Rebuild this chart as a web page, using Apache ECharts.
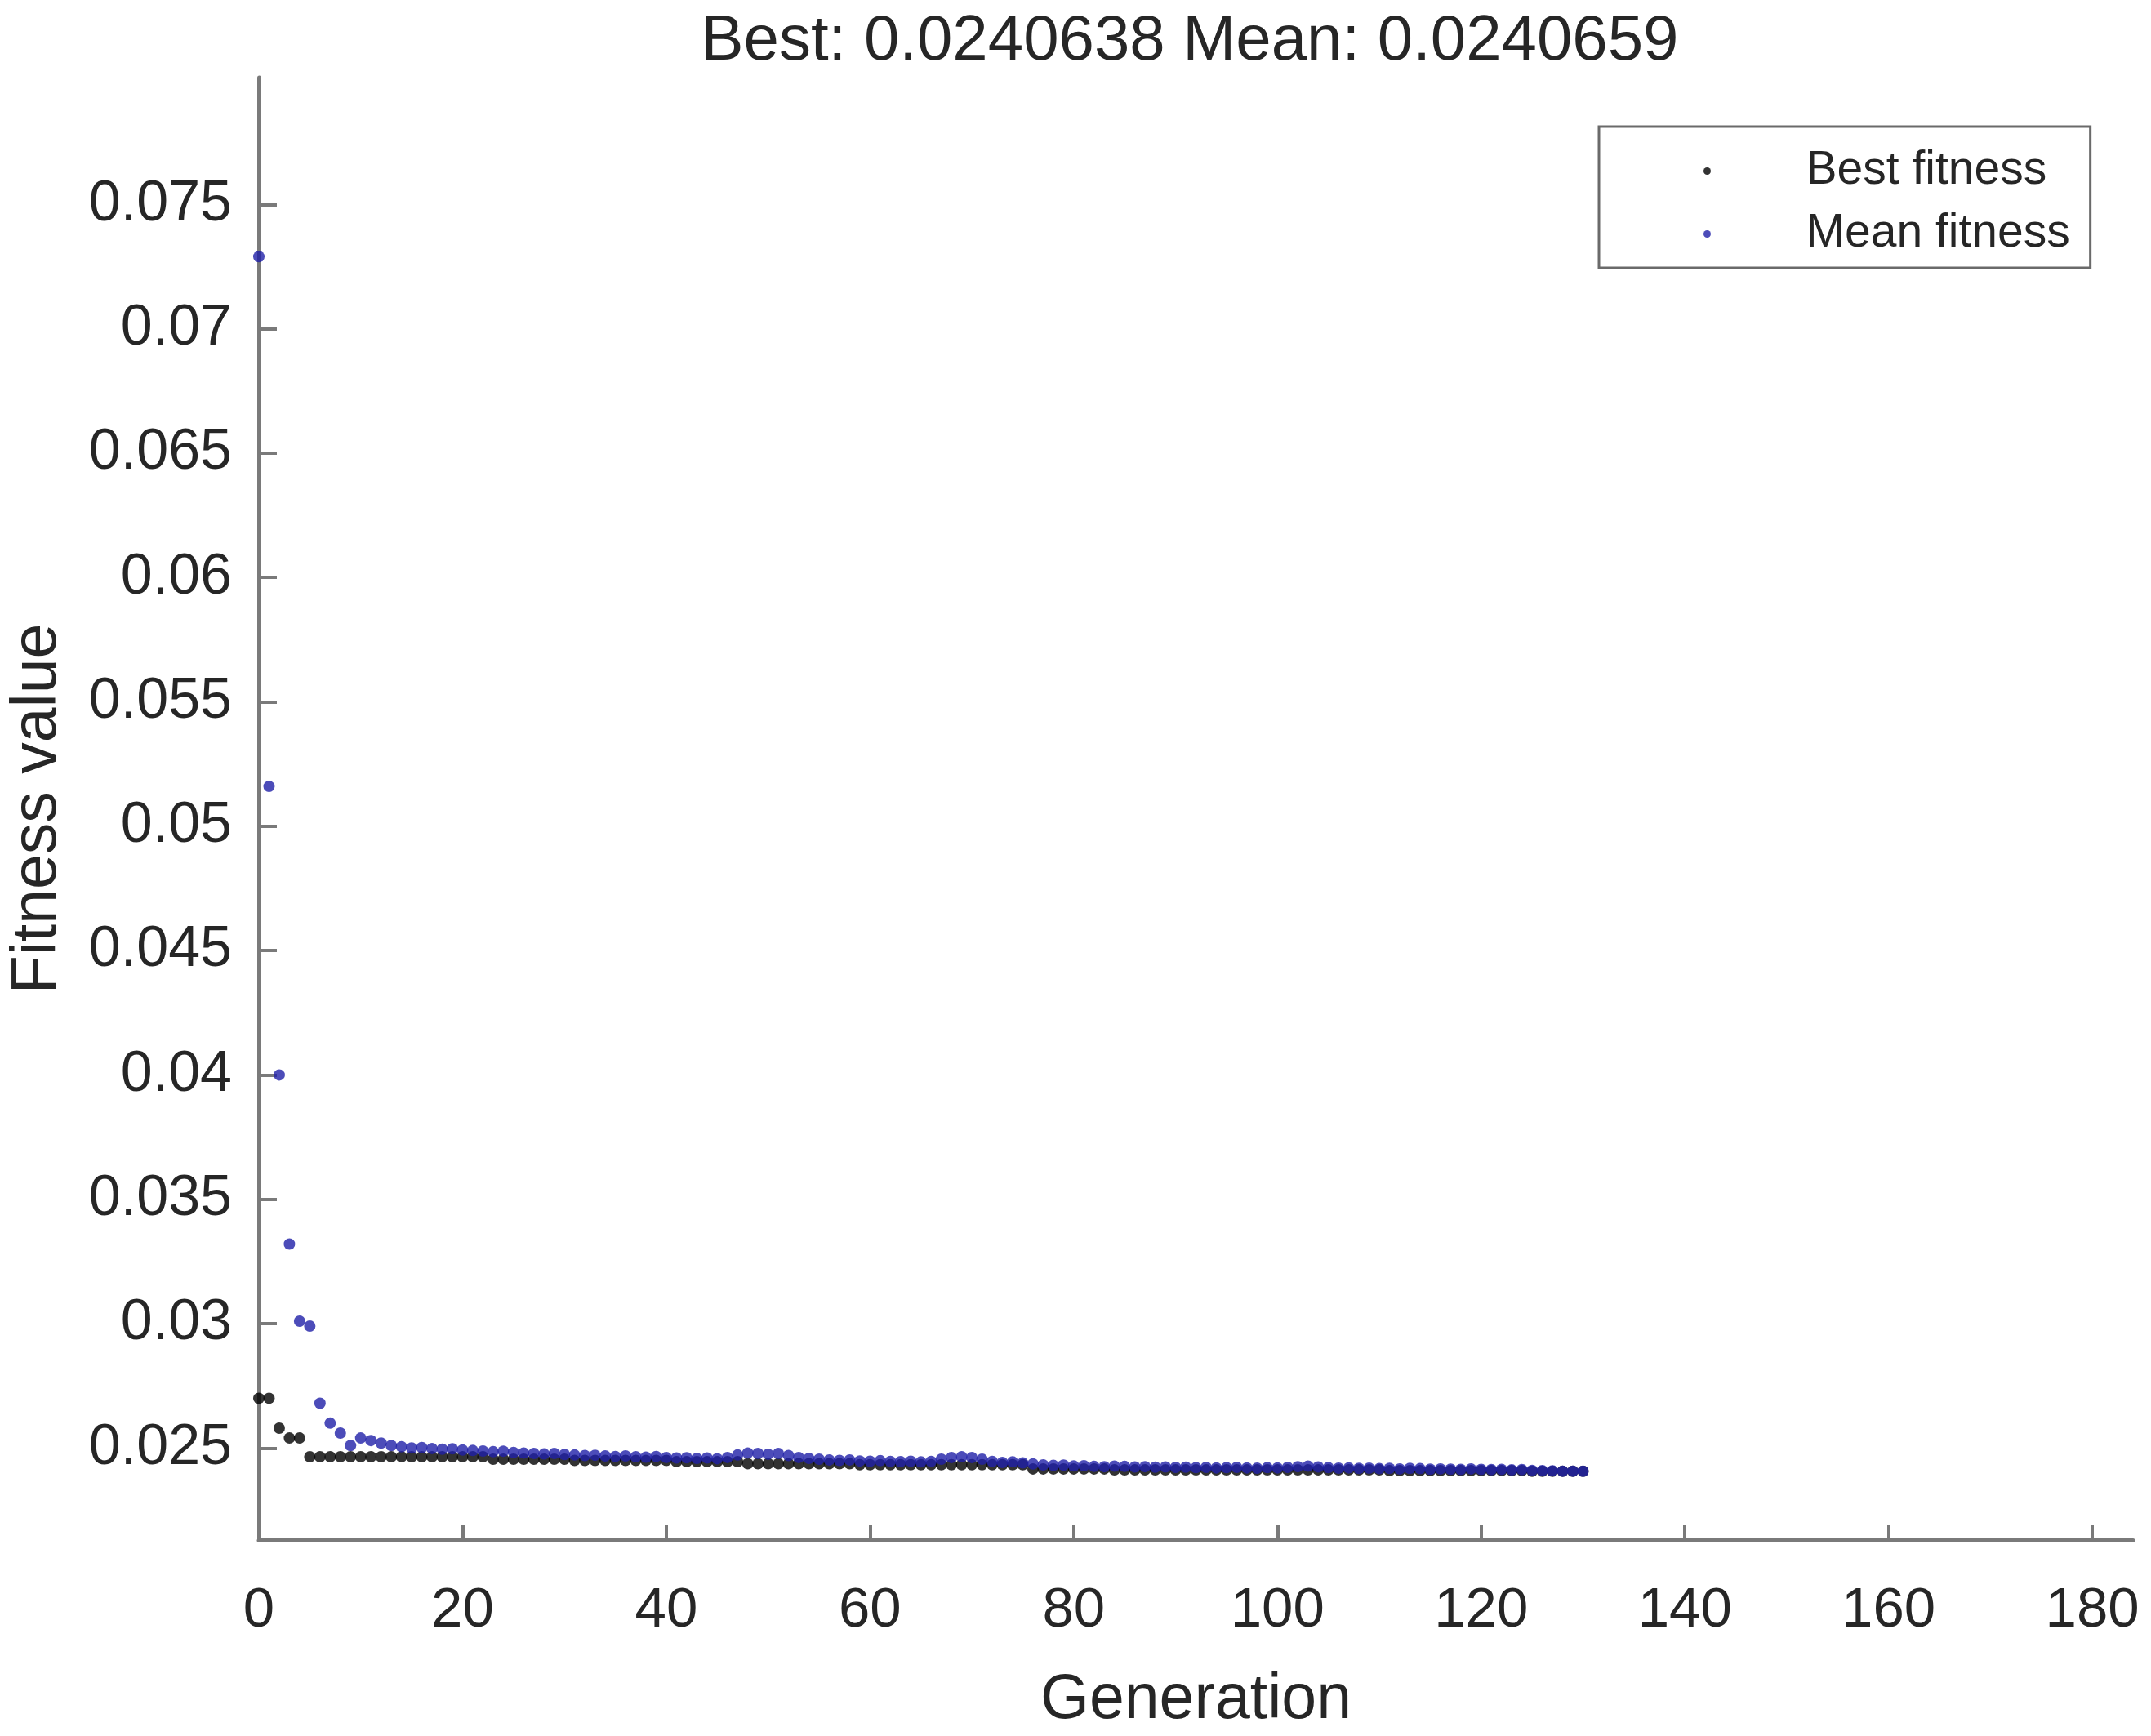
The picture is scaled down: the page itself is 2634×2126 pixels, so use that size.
<!DOCTYPE html>
<html>
<head>
<meta charset="utf-8">
<script src="https://cdn.jsdelivr.net/npm/echarts@6/dist/echarts.min.js"></script>
<style>
html,body{margin:0;padding:0;background:#fff;}
#chart{width:2634px;height:2126px;}
</style>
</head>
<body>
<div id="chart"></div>
<script>
// Generation-indexed values (generation = array index, 0..130)
var bestFitness = [
  0.0270, 0.0270, 0.0258, 0.0254, 0.0254,
  0.02465, 0.02465, 0.02465, 0.02465, 0.02465, 0.02465, 0.02465, 0.02465, 0.02465,
  0.02465, 0.02465, 0.02465, 0.02465, 0.02465, 0.02465, 0.02465, 0.02465, 0.02465,
  0.02455, 0.02455, 0.02455, 0.02455, 0.02455, 0.02455, 0.02455, 0.02455,
  0.0245, 0.0245, 0.0245, 0.0245, 0.0245, 0.0245, 0.0245, 0.0245, 0.0245, 0.0245,
  0.02445, 0.02445, 0.02445, 0.02445, 0.02445, 0.02445, 0.02445,
  0.02437, 0.02437, 0.02437, 0.02437, 0.02437, 0.02437, 0.02437, 0.02437, 0.02437, 0.02437, 0.02437,
  0.02433, 0.02433, 0.02433, 0.02433, 0.02433, 0.02433, 0.02433, 0.02433, 0.02433,
  0.02433, 0.02433, 0.02433, 0.02433, 0.02433, 0.02433, 0.02433, 0.02433,
  0.02416, 0.02416, 0.02416, 0.02416, 0.02416, 0.02416, 0.02416, 0.02416,
  0.02412, 0.02412, 0.02412, 0.02412, 0.02412, 0.02412, 0.02412, 0.02412, 0.02412,
  0.02412, 0.02412, 0.02412, 0.02412, 0.02412, 0.02412, 0.02412, 0.02412, 0.02412,
  0.02412, 0.02412, 0.02412, 0.02412, 0.02412, 0.02412, 0.02412, 0.02412, 0.02412,
  0.02409, 0.02409, 0.02409, 0.02409, 0.02409, 0.02409, 0.02409,
  0.02409, 0.02409, 0.02409, 0.02409, 0.02409, 0.02409, 0.02409,
  0.0240638, 0.0240638, 0.0240638, 0.0240638, 0.0240638, 0.0240638
];

var meanFitness = [
  0.0729, 0.0516, 0.0400, 0.0332, 0.0301, 0.0299, 0.0268, 0.0260, 0.0256, 0.0251,
  0.0254, 0.0253, 0.0252, 0.0251, 0.02505, 0.0250, 0.02502, 0.02498, 0.02495, 0.02497, 0.02492,
  0.0249, 0.02488, 0.02485, 0.02487, 0.02482, 0.0248, 0.02478, 0.02476, 0.02478, 0.02474,
  0.02472, 0.0247, 0.02471, 0.02468, 0.02466, 0.02468, 0.02465, 0.02463, 0.02466, 0.02462,
  0.0246, 0.02461, 0.02458, 0.0246, 0.02457,
  0.02462, 0.02472, 0.0248, 0.02478, 0.02475, 0.02478, 0.0247, 0.02462,
  0.02458, 0.02455, 0.02452, 0.0245, 0.02452, 0.02448, 0.02447, 0.02449, 0.02446, 0.02445,
  0.02447, 0.02444, 0.02446,
  0.02455, 0.02462, 0.02465, 0.02462, 0.02455,
  0.02446, 0.02442, 0.02444, 0.0244, 0.02436,
  0.02432, 0.0243, 0.02431, 0.02428, 0.02429, 0.02426, 0.02425, 0.02427,
  0.02426, 0.02424, 0.02425, 0.02423, 0.02424, 0.02422, 0.02423, 0.02421, 0.02422, 0.0242,
  0.02421, 0.02422, 0.0242, 0.02419, 0.02421, 0.0242,
  0.02422, 0.02425, 0.02427, 0.02424, 0.02421, 0.02419, 0.0242, 0.02418, 0.02419, 0.02417,
  0.02418, 0.02416, 0.02418, 0.02417, 0.02415, 0.02416, 0.02415, 0.02414, 0.02416, 0.02414,
  0.02413, 0.02414, 0.02412, 0.02413,
  0.0241, 0.02409, 0.02408, 0.02407, 0.02407, 0.0240659
];

var xTicks = [0, 20, 40, 60, 80, 100, 120, 140, 160, 180];
var yTicks = [0.025, 0.03, 0.035, 0.04, 0.045, 0.05, 0.055, 0.06, 0.065, 0.07, 0.075];
var titleText = 'Best: 0.0240638 Mean: 0.0240659';

var FONT = '"Liberation Sans", Arial, Helvetica, sans-serif';
var TXT = '#262626';
var AXC = '#7a7a7a';

function toPairs(arr) { return arr.map(function (v, i) { return [i, v]; }); }

var chart = echarts.init(document.getElementById('chart'), null, { renderer: 'canvas' });
chart.setOption({
  backgroundColor: '#ffffff',
  animation: false,
  title: {
    text: titleText,
    left: 1452,
    textAlign: 'center',
    top: 7,
    textStyle: { fontFamily: FONT, fontSize: 78, fontWeight: 'normal', color: TXT }
  },
  legend: {
    orient: 'vertical',
    left: 1958,
    top: 155,
    padding: [26, 25, 13, 128],
    itemGap: 20,
    itemWidth: 12,
    itemHeight: 9,
    icon: 'circle',
    borderColor: '#6a6a6a',
    borderWidth: 3,
    backgroundColor: '#ffffff',
    textStyle: { fontFamily: FONT, fontSize: 57, color: TXT, padding: [0, 0, 0, 110] },
    data: ['Best fitness', 'Mean fitness']
  },
  grid: { left: 308, right: 22, top: 95, bottom: 221, containLabel: false },
  xAxis: {
    type: 'value',
    min: 0,
    max: 184,
    name: 'Generation',
    nameLocation: 'middle',
    nameGap: 158,
    nameTextStyle: { fontFamily: FONT, fontSize: 77, color: TXT },
    axisLine: { show: true, lineStyle: { color: AXC, width: 5 } },
    axisTick: { show: true, inside: true, length: 18, customValues: xTicks, lineStyle: { color: AXC, width: 4 } },
    axisLabel: { customValues: xTicks, fontFamily: FONT, fontSize: 69, color: TXT, margin: 52 },
    splitLine: { show: false }
  },
  yAxis: {
    type: 'value',
    min: 0.0213,
    max: 0.0801,
    name: 'Fitness value',
    nameLocation: 'middle',
    nameRotate: 90,
    nameGap: 232,
    nameTextStyle: { fontFamily: FONT, fontSize: 77, color: TXT },
    axisLine: { show: true, lineStyle: { color: AXC, width: 5 } },
    axisTick: { show: true, inside: true, length: 22, customValues: yTicks, lineStyle: { color: AXC, width: 4 } },
    axisLabel: {
      customValues: yTicks,
      fontFamily: FONT, fontSize: 70, color: TXT, margin: 33,
      formatter: function (v) { return String(v); }
    },
    splitLine: { show: false }
  },
  series: [
    {
      name: 'Best fitness',
      type: 'scatter',
      symbol: 'circle',
      symbolSize: 14,
      itemStyle: { color: '#000000' },
      data: toPairs(bestFitness)
    },
    {
      name: 'Mean fitness',
      type: 'scatter',
      symbol: 'circle',
      symbolSize: 14,
      itemStyle: { color: '#1f1fa8' },
      data: toPairs(meanFitness)
    }
  ]
});
</script>
</body>
</html>
